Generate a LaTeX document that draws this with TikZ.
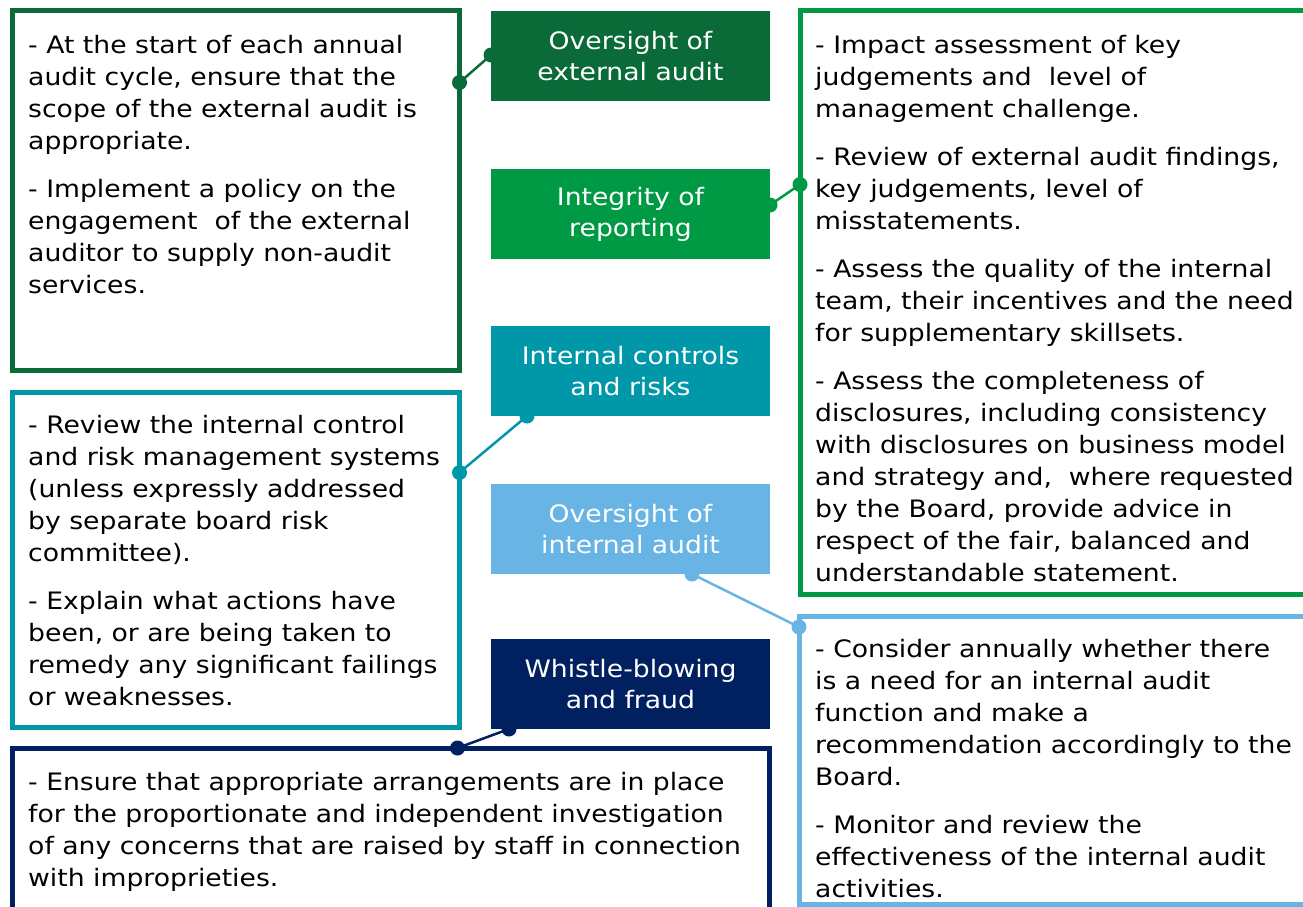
\documentclass[tikz,border=0pt]{standalone}
\usepackage{fontspec}
\setmainfont{DejaVu Sans}[FakeStretch=1.11]
\definecolor{acdarkgreen}{RGB}{10,106,56}
\definecolor{acgreen}{RGB}{0,154,68}
\definecolor{acteal}{RGB}{0,151,169}
\definecolor{acsky}{RGB}{104,180,228}
\definecolor{acnavy}{RGB}{0,32,96}

\begin{document}
\begin{tikzpicture}[x=1pt,y=-1pt,
    title/.style={fill=#1,text=white,minimum width=279pt,minimum height=90pt,
        inner sep=0pt,outer sep=0pt,anchor=north west,align=center,
        font=\fontsize{24}{31}\selectfont},
    note/.style={draw=#1,line width=5pt,inner sep=0pt,outer sep=0pt,anchor=north west},
    notetext/.style={anchor=base west,inner sep=0pt,align=left,
        font=\fontsize{24}{32}\selectfont},
    link/.style={draw=#1,line width=2.5pt}]
                \useasboundingbox (0,0) rectangle (1303,906);
                \clip (0,0) rectangle (1303,906);

                % the five committee duties
                \node[title=acdarkgreen] (oea) at (491,11) {Oversight of\\external audit};
                \node[title=acgreen] (rep) at (491,169) {Integrity of\\reporting};
                \node[title=acteal] (icr) at (491,326) {Internal controls\\and risks};
                \node[title=acsky] (oia) at (491,484) {Oversight of\\internal audit};
                \node[title=acnavy] (wbf) at (491,639) {Whistle-blowing\\and fraud};

                % outlined boxes with the detail
                \node[note=acdarkgreen,minimum width=447pt,minimum height=360pt] (oeabox) at (12.5,10.5) {};
                \node[note=acgreen,minimum width=520pt,minimum height=584pt] (repbox) at (800,10.5) {};
                \node[note=acteal,minimum width=447pt,minimum height=335pt] (icrbox) at (12.5,392.5) {};
                \node[note=acsky,minimum width=520pt,minimum height=288pt] (oiabox) at (799,616) {};
                \node[note=acnavy,minimum width=757pt,minimum height=170pt] (wbfbox) at (12.5,748) {};

                % texts sit on the baseline of their last line
                \node[notetext] (oeatext) at (28,293) {- At the start of each annual\\
                    audit cycle, ensure that the\\
                    scope of the external audit is\\
                    appropriate.\\[16pt]
                    - Implement a policy on the\\
                    engagement\ \ of the external\\
                    auditor to supply non-audit\\
                    services.};
                \node[notetext] (reptext) at (815,581) {- Impact assessment of key\\
                    judgements and\ \ level of\\
                    management challenge.\\[16pt]
                    - Review of external audit findings,\\
                    key judgements, level of\\
                    misstatements.\\[16pt]
                    - Assess the quality of the internal\\
                    team, their incentives and the need\\
                    for supplementary skillsets.\\[16pt]
                    - Assess the completeness of\\
                    disclosures, including consistency\\
                    with disclosures on business model\\
                    and strategy and,\ \ where requested\\
                    by the Board, provide advice in\\
                    respect of the fair, balanced and\\
                    understandable statement.};
                \node[notetext] (icrtext) at (28,705) {- Review the internal control\\
                    and risk management systems\\
                    (unless expressly addressed\\
                    by separate board risk\\
                    committee).\\[16pt]
                    - Explain what actions have\\
                    been, or are being taken to\\
                    remedy any significant failings\\
                    or weaknesses.};
                \node[notetext] (oiatext) at (815,897) {- Consider annually whether there\\
                    is a need for an internal audit\\
                    function and make a\\
                    recommendation accordingly to the\\
                    Board.\\[16pt]
                    - Monitor and review the\\
                    effectiveness of the internal audit\\
                    activities.};
                \node[notetext] (wbftext) at (28,886) {- Ensure that appropriate arrangements are in place\\
                    for the proportionate and independent investigation\\
                    of any concerns that are raised by staff in connection\\
                    with improprieties.};

                % links between duty and box, dots at both ends
                \draw[link=acdarkgreen] ([yshift=-44pt]oea.north west) coordinate (oea-a)
                    -- ([yshift=-72pt]oeabox.north east) coordinate (oea-b);
                \fill[acdarkgreen] (oea-a) circle (7.5pt) (oea-b) circle (7.5pt);

                \draw[link=acgreen] ([yshift=-36pt]rep.north east) coordinate (rep-a)
                    -- ([yshift=-174pt]repbox.north west) coordinate (rep-b);
                \fill[acgreen] (rep-a) circle (7.5pt) (rep-b) circle (7.5pt);

                \draw[link=acteal] ([xshift=36pt]icr.south west) coordinate (icr-a)
                    -- ([yshift=-80pt]icrbox.north east) coordinate (icr-b);
                \fill[acteal] (icr-a) circle (7.5pt) (icr-b) circle (7.5pt);

                \draw[link=acsky] ([xshift=-78pt]oia.south east) coordinate (oia-a)
                    -- ([yshift=-11pt]oiabox.north west) coordinate (oia-b);
                \fill[acsky] (oia-a) circle (7.5pt) (oia-b) circle (7.5pt);

                \draw[link=acnavy] ([xshift=18pt]wbf.south west) coordinate (wbf-a)
                    -- ([xshift=445pt]wbfbox.north west) coordinate (wbf-b);
                \fill[acnavy] (wbf-a) circle (7.5pt) (wbf-b) circle (7.5pt);
            \end{tikzpicture}
\end{document}
